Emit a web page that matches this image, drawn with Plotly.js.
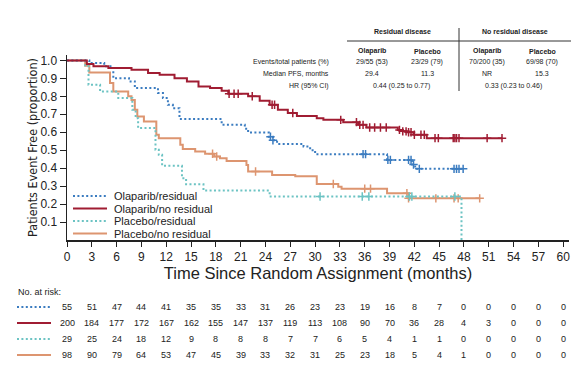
<!DOCTYPE html>
<html>
<head>
<meta charset="utf-8">
<script src="https://cdn.plot.ly/plotly-3.0.1.min.js"></script>
<style>html,body{margin:0;padding:0;background:#fff;}#chart{width:575px;height:366px;}</style>
</head>
<body>
<div id="chart"></div>
<script>
// ---- Kaplan-Meier step data (time in months, proportion event free) ----
const olapResT = [0, 2.7, 4.5, 5.6, 7.5, 8.2, 11.0, 11.6, 12.2, 12.8, 13.6, 18.7, 21.5, 21.9, 24.4, 24.9, 25.4, 28.6, 29.4, 30.0, 38.7, 41.7, 42.1, 47.9];
const olapResS = [1.0, 0.985, 0.967, 0.90, 0.883, 0.846, 0.818, 0.79, 0.753, 0.734, 0.673, 0.641, 0.62, 0.598, 0.575, 0.555, 0.535, 0.52, 0.50, 0.478, 0.446, 0.42, 0.396, 0.396];
const olapResCens = [24.6, 24.9, 35.8, 36.1, 38.8, 39.1, 41.3, 41.6, 41.9, 42.6, 46.8, 47.1, 47.4, 47.9];

const olapNoResT = [0, 2.4, 3.2, 5.0, 7.8, 9.8, 11.2, 13.0, 14.5, 15.9, 17.3, 18.7, 19.5, 21.9, 23.3, 24.5, 25.5, 26.7, 27.8, 30.2, 31.0, 33.4, 35.2, 36.2, 40.0, 40.6, 41.1, 41.9, 43.5, 52.6];
const olapNoResS = [1.0, 0.98, 0.967, 0.957, 0.948, 0.93, 0.92, 0.90, 0.883, 0.855, 0.846, 0.831, 0.814, 0.80, 0.775, 0.753, 0.725, 0.707, 0.69, 0.678, 0.669, 0.656, 0.641, 0.626, 0.613, 0.605, 0.60, 0.586, 0.567, 0.567];
const olapNoResCens = [19.6, 20.2, 20.7, 22.4, 24.8, 25.1, 27.3, 33.1, 35.0, 35.4, 35.8, 36.6, 37.2, 37.9, 38.6, 40.2, 40.6, 41.0, 41.3, 41.6, 42.0, 42.8, 43.2, 44.5, 44.9, 46.7, 46.9, 47.1, 47.4, 50.8, 52.6];

const placResT = [0, 2.2, 2.6, 4.0, 6.2, 7.9, 8.3, 8.6, 10.7, 11.1, 11.5, 13.9, 14.4, 16.5, 24.5, 47.7, 47.7];
const placResS = [1.0, 0.967, 0.864, 0.827, 0.79, 0.725, 0.678, 0.623, 0.502, 0.474, 0.413, 0.344, 0.31, 0.275, 0.242, 0.242, 0.0];
const placResCens = [30.6, 35.7, 36.5, 41.4, 41.7, 46.9];

const placNoResT = [0, 2.2, 2.7, 5.2, 5.6, 7.4, 7.8, 8.2, 8.5, 9.3, 10.8, 11.1, 13.7, 14.0, 15.5, 16.7, 17.8, 18.5, 19.3, 21.7, 21.9, 24.8, 27.6, 30.2, 32.8, 33.2, 38.7, 41.3, 49.9];
const placNoResS = [1.0, 0.97, 0.933, 0.874, 0.827, 0.80, 0.78, 0.725, 0.688, 0.66, 0.586, 0.567, 0.53, 0.507, 0.493, 0.48, 0.465, 0.455, 0.44, 0.418, 0.381, 0.362, 0.355, 0.312, 0.297, 0.286, 0.26, 0.232, 0.232];
const placNoResCens = [17.6, 18.1, 22.8, 32.2, 36.0, 36.7, 41.1, 41.3, 44.6, 46.8, 47.3, 49.9];

// ---- Numbers at risk ----
const riskTimes = [0, 3, 6, 9, 12, 15, 18, 21, 24, 27, 30, 33, 36, 39, 42, 45, 48, 51, 54, 57, 60];
const riskOlapRes   = [55, 51, 47, 44, 41, 35, 35, 33, 31, 26, 23, 23, 19, 16, 8, 7, 0, 0, 0, 0, 0];
const riskOlapNoRes = [200, 184, 177, 172, 167, 162, 155, 147, 137, 119, 113, 108, 90, 70, 36, 28, 4, 3, 0, 0, 0];
const riskPlacRes   = [29, 25, 24, 18, 12, 9, 8, 8, 8, 7, 7, 6, 5, 4, 1, 1, 0, 0, 0, 0, 0];
const riskPlacNoRes = [98, 90, 79, 64, 53, 47, 45, 39, 33, 32, 31, 25, 23, 18, 5, 4, 1, 0, 0, 0, 0];

// ---- Labels ----
const seriesNames = ['Olaparib/residual', 'Olaparib/no residual', 'Placebo/residual', 'Placebo/no residual'];
const xTicks = riskTimes;
const yTicks = [0.1, 0.2, 0.3, 0.4, 0.5, 0.6, 0.7, 0.8, 0.9, 1.0];
const tableGroups = ['Residual disease', 'No residual disease'];
const tableCols = ['Olaparib', 'Placebo', 'Olaparib', 'Placebo'];
const tableRowLabels = ['Events/total patients (%)', 'Median PFS, months', 'HR (95% CI)'];
const tableEvents = ['29/55 (53)', '23/29 (79)', '70/200 (35)', '69/98 (70)'];
const tableMedian = ['29.4', '11.3', 'NR', '15.3'];
const tableHR = ['0.44 (0.25 to 0.77)', '0.33 (0.23 to 0.46)'];

// ---- Styles ----
const colors = ['#3b7cc0', '#a01c32', '#6cc3c3', '#dd9570'];
const dashes = ['2px,2.4px', 'solid', '2px,2.4px', 'solid'];
const FONT = 'Liberation Sans, Arial, sans-serif';

const series = [
  [olapResT, olapResS, olapResCens],
  [olapNoResT, olapNoResS, olapNoResCens],
  [placResT, placResS, placResCens],
  [placNoResT, placNoResS, placNoResCens]
];
const risks = [riskOlapRes, riskOlapNoRes, riskPlacRes, riskPlacNoRes];

function stepAt(T, S, t) {
  let v = S[0];
  for (let i = 0; i < T.length; i++) { if (T[i] <= t) v = S[i]; }
  return v;
}

const traces = [];
[3, 2, 0, 1].forEach(k => {
  const [T, S, C] = series[k];
  traces.push({
    x: T, y: S, type: 'scatter', mode: 'lines', name: seriesNames[k],
    line: {shape: 'hv', color: colors[k], width: 2, dash: dashes[k]},
    showlegend: false, hoverinfo: 'skip'
  });
  traces.push({
    x: C, y: C.map(c => stepAt(T, S, c)), type: 'scatter', mode: 'markers',
    marker: {symbol: 'cross-thin', size: 6, line: {color: colors[k], width: 1.5}, color: colors[k]},
    showlegend: false, hoverinfo: 'skip'
  });
});

// geometry helpers (plot area: x 67..569 px, y 55..240 px)
const L = 67, R = 569, T0 = 55, B0 = 240;
const px = v => (v - L) / (R - L);
const py = v => (B0 - v) / (B0 - T0);

const annotations = [];
const shapes = [];
function txt(text, x, y, size, xanchor, xref) {
  annotations.push({text: text, x: x, y: y, xref: xref || 'paper', yref: 'paper', xanchor: xanchor || 'center', yanchor: 'middle',
    showarrow: false, font: {size: size, family: FONT, color: '#222'}});
}

// table
const colX = [372, 427, 487, 542];
txt('<b>' + tableGroups[0] + '</b>', px(402), py(32), 7);
txt('<b>' + tableGroups[1] + '</b>', px(515), py(32), 7);
tableCols.forEach((c, i) => txt('<b>' + c + '</b>', px(colX[i]), py(51.5), 7));
const rowY = [62, 74, 86];
tableRowLabels.forEach((r, i) => txt(r, px(331), py(rowY[i]), 7, 'right'));
tableEvents.forEach((v, i) => txt(v, px(colX[i]), py(rowY[0]), 7));
tableMedian.forEach((v, i) => txt(v, px(colX[i]), py(rowY[1]), 7));
txt(tableHR[0], px(401), py(rowY[2]), 7);
txt(tableHR[1], px(513), py(rowY[2]), 7);
shapes.push({type: 'line', xref: 'paper', yref: 'paper', x0: px(347), x1: px(571), y0: py(41), y1: py(41), line: {color: '#333', width: 1}});
shapes.push({type: 'line', xref: 'paper', yref: 'paper', x0: px(459), x1: px(459), y0: py(28), y1: py(91), line: {color: '#333', width: 1}});

// legend (manual)
const legY = [196, 208.5, 221, 233.5];
seriesNames.forEach((n, k) => {
  shapes.push({type: 'line', xref: 'paper', yref: 'paper', x0: px(73), x1: px(107), y0: py(legY[k]), y1: py(legY[k]), line: {color: colors[k], width: 2, dash: dashes[k]}});
  txt(n, px(112), py(legY[k]), 11, 'left');
});

// risk table
txt('No. at risk:', px(16), py(292), 9, 'left');
const riskY = [307, 323, 339, 355];
risks.forEach((arr, k) => {
  shapes.push({type: 'line', xref: 'paper', yref: 'paper', x0: px(17), x1: px(51), y0: py(riskY[k]), y1: py(riskY[k]), line: {color: colors[k], width: 2, dash: dashes[k]}});
  arr.forEach((v, i) => txt(String(v), riskTimes[i], py(riskY[k]), 9, 'center', 'x'));
});

const layout = {
  width: 575, height: 366,
  margin: {l: L, r: 575 - R, t: T0, b: 366 - B0},
  paper_bgcolor: '#fff', plot_bgcolor: '#fff',
  showlegend: false,
  font: {family: FONT, color: '#222'},
  xaxis: {
    range: [0, 60.7], tickvals: xTicks, ticks: 'outside', ticklen: 5, tickwidth: 1, tickcolor: '#222',
    showline: true, linecolor: '#222', linewidth: 1.5, showgrid: false, zeroline: false,
    tickfont: {size: 12, family: FONT, color: '#222'},
    title: {text: 'Time Since Random Assignment (months)', font: {size: 16.5, family: FONT, color: '#222'}, standoff: 3}
  },
  yaxis: {
    range: [0, 1.03], tickvals: yTicks, tickformat: '.1f', ticks: 'outside', ticklen: 6, tickwidth: 1, tickcolor: '#222',
    showline: true, linecolor: '#222', linewidth: 1.5, showgrid: false, zeroline: false,
    tickfont: {size: 12, family: FONT, color: '#222'},
    title: {text: 'Patients Event Free (proportion)', font: {size: 12.5, family: 'Liberation Sans Narrow, DejaVu Sans Condensed, Arial Narrow, sans-serif', color: '#222'}, standoff: 0}
  },
  annotations: annotations,
  shapes: shapes
};

Plotly.newPlot('chart', traces, layout, {displayModeBar: false, staticPlot: true});
</script>
</body>
</html>
